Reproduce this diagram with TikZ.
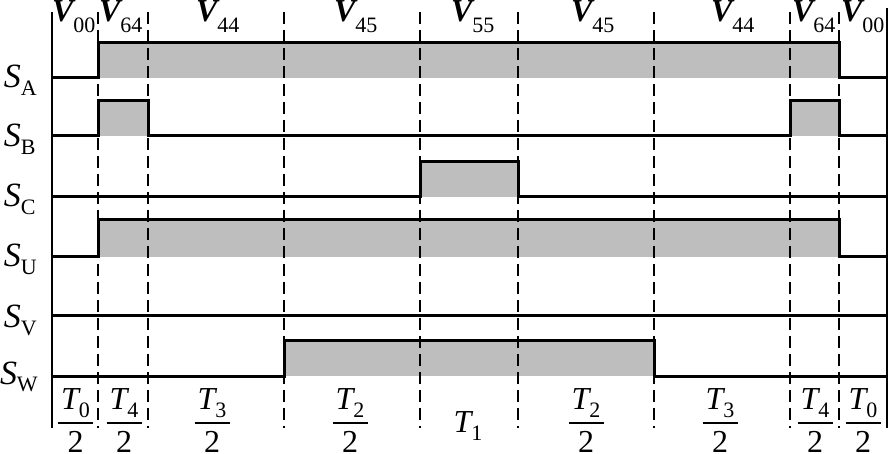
\documentclass[tikz,border=0pt]{standalone}
\usepackage{fontspec}
\setmainfont{Liberation Serif}
\definecolor{wavefill}{RGB}{190,190,190}
\newcommand\Vlab[1]{{\fontsize{32}{32}\selectfont\bfseries\itshape V}{\fontsize{22}{22}\selectfont\raisebox{-11pt}{#1}}}
\newcommand\Slab[1]{{\fontsize{34}{34}\selectfont\itshape S}{\fontsize{22}{22}\selectfont\raisebox{-8pt}{#1}}}
\newcommand\Tnum[1]{{\fontsize{32}{32}\selectfont\itshape T}{\fontsize{22}{22}\selectfont\raisebox{-8pt}{#1}}}
\newcommand\Tden{{\fontsize{32}{32}\selectfont 2}}
\begin{document}
\begin{tikzpicture}[x=1pt,y=-1pt,
  every node/.style={inner sep=0pt,outer sep=0pt},
  sig/.style={line width=3pt,line join=miter,line cap=butt},
  border/.style={line width=1.4pt},
  dsh/.style={line width=1.4pt,dash pattern=on 12pt off 6pt},
  fbar/.style={line width=1.4pt},
  lab/.style={anchor=base west},
  num/.style={anchor=base}]
\useasboundingbox (0,0) rectangle (889,454);
\clip (0,0) rectangle (889,454);
\fill[white] (0,0) rectangle (889,454);
% gray fills
\fill[wavefill] (98,43) rectangle (839,78);
\fill[wavefill] (98,101) rectangle (148,136);
\fill[wavefill] (790,101) rectangle (839,136);
\fill[wavefill] (420,162) rectangle (518,197);
\fill[wavefill] (98,220) rectangle (839,257);
\fill[wavefill] (284,341) rectangle (654,376);
% dashed time marks
\foreach \x in {98,148,284,420,518,654,790,839}
  \draw[dsh] (\x,12) -- (\x,428);
% borders
\draw[border] (52,12) -- (52,428);
\draw[border] (887,8) -- (887,428);
% signals
\draw[sig] (52,78) -- (98,78) -- (98,43) -- (839,43) -- (839,78) -- (887,78);
\draw[sig] (52,136) -- (98,136) -- (98,101) -- (148,101) -- (148,136) -- (790,136) -- (790,101) -- (839,101) -- (839,136) -- (887,136);
\draw[sig] (52,197) -- (420,197) -- (420,162) -- (518,162) -- (518,197) -- (887,197);
\draw[sig] (52,257) -- (98,257) -- (98,220) -- (839,220) -- (839,257) -- (887,257);
\draw[sig] (52,316) -- (887,316);
\draw[sig] (52,376) -- (284,376) -- (284,341) -- (654,341) -- (654,376) -- (887,376);
% signal labels
\node[lab] (sa) at (4,88) {\Slab{A}};
\node[lab] (sb) at (4,147) {\Slab{B}};
\node[lab] (sc) at (4,207) {\Slab{C}};
\node[lab] (su) at (4,267) {\Slab{U}};
\node[lab] (sv) at (4,327) {\Slab{V}};
\node[lab] (sw) at (0,384) {\Slab{W}};
% vector labels
\node[lab] (v1) at (52,22) {\Vlab{00}};
\node[lab] (v2) at (99,22) {\Vlab{64}};
\node[lab] (v3) at (196,22) {\Vlab{44}};
\node[lab] (v4) at (334,22) {\Vlab{45}};
\node[lab] (v5) at (451,22) {\Vlab{55}};
\node[lab] (v6) at (571,22) {\Vlab{45}};
\node[lab] (v7) at (711,22) {\Vlab{44}};
\node[lab] (v8) at (792,22) {\Vlab{64}};
\node[lab] (v9) at (841,22) {\Vlab{00}};
% time labels
\foreach \c/\s/\n in {75.5/0/a,124/4/b,212/3/c,350/2/d,586/2/e,720/3/f,815/4/g,863/0/h}{
  \node[num] (tn\n) at (\c,409) {\Tnum{\s}};
  \draw[fbar] (\c-17.5,423) -- (\c+17.5,423);
  \node[num] (td\n) at (\c,452) {\Tden};
}
\node[num] (t1) at (468,432) {\Tnum{1}};
\end{tikzpicture}
\end{document}
